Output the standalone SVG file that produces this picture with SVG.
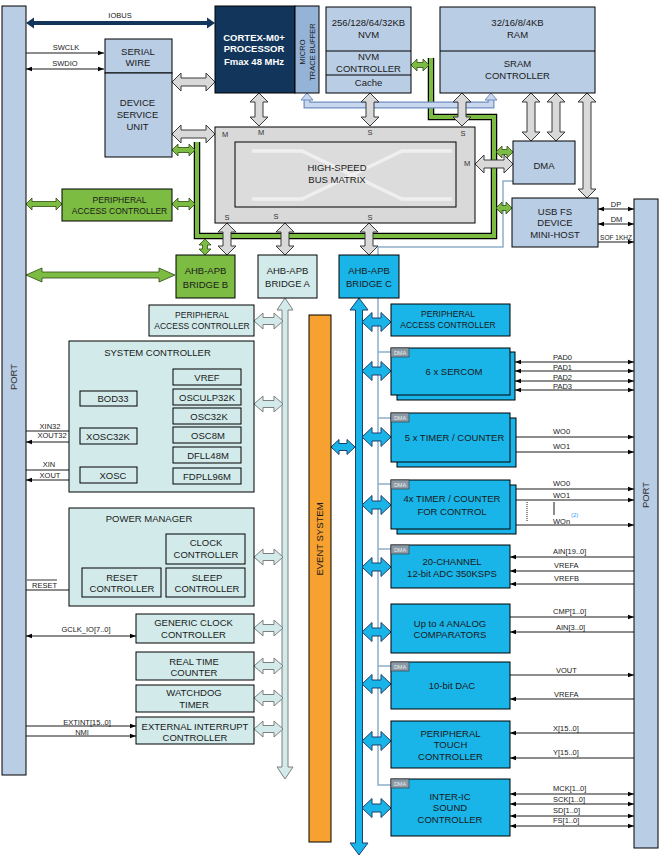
<svg xmlns="http://www.w3.org/2000/svg" width="665" height="858" viewBox="0 0 665 858">
<style>
text{font-family:"Liberation Sans",Arial,sans-serif;fill:#1a1a1a;text-anchor:middle}
.t{font-size:9.5px}
.s{font-size:8.5px}
.l{font-size:7.5px;text-anchor:start}
.lc{font-size:7.5px}
.bl{fill:#b9cde5;stroke:#000;stroke-width:1}
.cy{fill:#19b4e8;stroke:#000;stroke-width:1}
.lcy{fill:#d2ebea;stroke:#000;stroke-width:1}
.gn{fill:#7cbc42;stroke:#000;stroke-width:1}
.ga{fill:#d9d9d9;stroke:#3a3a3a;stroke-width:1}
.ca{fill:#19b4e8;stroke:#1c3f6e;stroke-width:1}
.la{fill:#d2ebea;stroke:#7f7f7f;stroke-width:1}
.gra{fill:#7cbc42;stroke:#2d4a12;stroke-width:0.8}
.sig{stroke:#000;stroke-width:0.9;fill:none}
.e{marker-end:url(#a)}
.d{marker-start:url(#a);marker-end:url(#a)}
.dt{fill:#8a99a5;stroke:#333;stroke-width:0.6}
.dtx{font-size:5.5px;fill:#eee}
.ms{font-size:7.5px;fill:#333}
</style>
<defs>
<marker id="a" viewBox="0 0 6 6" refX="6" refY="3" markerWidth="6" markerHeight="6" markerUnits="userSpaceOnUse" orient="auto-start-reverse"><path d="M0,0.8 L6,3 L0,5.2 Z" fill="#000"/></marker>
<path id="laH" d="M0 0 L9 -8 L9 -3.5 L20 -3.5 L20 -8 L29 0 L20 8 L20 3.5 L9 3.5 L9 8 Z"/>
<path id="caH" d="M0 0 L10 -9.5 L10 -4 L19 -4 L19 -9.5 L29 0 L19 9.5 L19 4 L10 4 L10 9.5 Z"/>
</defs>
<rect width="665" height="858" fill="#fff"/>

<g id="connectors">
<!-- green APB-B bus -->
<path d="M431 58V117H494V236H197V142" fill="none" stroke="#000" stroke-width="6.5"/>
<path d="M431 58V117H494V236H197V142" fill="none" stroke="#7cbc42" stroke-width="4"/>
<!-- trace buffer band -->
<path d="M307 99V105H491V99" fill="none" stroke="#6f8fbf" stroke-width="7"/>
<path d="M307 99V105H491V99" fill="none" stroke="#c9d8ee" stroke-width="4.5"/>
<path d="M307 93L313 100L301 100Z" fill="#c9d8ee" stroke="#6f8fbf" stroke-width="1"/>
<path d="M491 93L497 100L485 100Z" fill="#c9d8ee" stroke="#6f8fbf" stroke-width="1"/>
<!-- DMA request line -->
<path d="M513 181H503V247H378V785H391M378 352H391M378 418H391M378 484H391M378 549H391M378 666H391" fill="none" stroke="#8fafc8" stroke-width="1.5"/>
<!-- IOBUS -->
<path d="M26 23 L34 17.5 L34 21 L207 21 L207 17.5 L215 23 L207 28.5 L207 25 L34 25 L34 28.5 Z" fill="#12355b"/>
<!-- gray AHB arrows -->
<path class="ga" d="M172 82 L181 73 L181 78 L206 78 L206 73 L215 82 L206 91 L206 86 L181 86 L181 91 Z"/>
<path class="ga" d="M172 134 L181 125 L181 130 L206 130 L206 125 L215 134 L206 143 L206 138 L181 138 L181 143 Z"/>
<path class="ga" d="M259 93 L268 102 L263 102 L263 117 L268 117 L259 126 L250 117 L255 117 L255 102 L250 102 Z"/>
<path class="ga" d="M370 93 L379 102 L374 102 L374 117 L379 117 L370 126 L361 117 L366 117 L366 102 L361 102 Z"/>
<path class="ga" d="M462 93 L471 102 L466 102 L466 117 L471 117 L462 126 L453 117 L458 117 L458 102 L453 102 Z"/>
<path class="ga" d="M531 93 L540 102 L535 102 L535 132 L540 132 L531 141 L522 132 L527 132 L527 102 L522 102 Z"/>
<path class="ga" d="M556 93 L565 102 L560 102 L560 132 L565 132 L556 141 L547 132 L552 132 L552 102 L547 102 Z"/>
<path class="ga" d="M587 93 L596 102 L591 102 L591 189 L596 189 L587 198 L578 189 L583 189 L583 102 L578 102 Z"/>
<path class="ga" d="M475 164 L484 155 L484 160 L504 160 L504 155 L513 164 L504 173 L504 168 L484 168 L484 173 Z"/>
<path class="ga" d="M227 223 L236 232 L231 232 L231 246 L236 246 L227 255 L218 246 L223 246 L223 232 L218 232 Z"/>
<path class="ga" d="M285 223 L294 232 L289 232 L289 246 L294 246 L285 255 L276 246 L281 246 L281 232 L276 232 Z"/>
<path class="ga" d="M369 223 L378 232 L373 232 L373 246 L378 246 L369 255 L360 246 L365 246 L365 232 L360 232 Z"/>
<!-- green arrows -->
<path class="gra" d="M411 65 L417 59 L417 62.5 L423 62.5 L423 59 L429 65 L423 71 L423 67.5 L417 67.5 L417 71 Z"/>
<path class="gra" d="M172 150 L178 144 L178 147.5 L189 147.5 L189 144 L195 150 L189 156 L189 152.5 L178 152.5 L178 156 Z"/>
<path class="gra" d="M172 204 L178 198 L178 201.5 L189 201.5 L189 198 L195 204 L189 210 L189 206.5 L178 206.5 L178 210 Z"/>
<path class="gra" d="M26 204 L32 198 L32 201.5 L56 201.5 L56 198 L62 204 L56 210 L56 206.5 L32 206.5 L32 210 Z"/>
<path class="gra" d="M205 239 L211 245 L207.5 245 L207.5 249 L211 249 L205 255 L199 249 L202.5 249 L202.5 245 L199 245 Z"/>
<path class="gra" d="M496 152 L502 146 L502 149.5 L507 149.5 L507 146 L513 152 L507 158 L507 154.5 L502 154.5 L502 158 Z"/>
<path class="gra" d="M496 208 L502 202 L502 205.5 L506 205.5 L506 202 L512 208 L506 214 L506 210.5 L502 210.5 L502 214 Z"/>
<path class="gra" d="M26 275 L42 268 L42 272 L159 272 L159 268 L175 275 L159 282 L159 278 L42 278 L42 282 Z"/>
<!-- APB A bus -->
<path class="la" d="M285 298 L293 310 L288 310 L288 767 L293 767 L285 779 L277 767 L282 767 L282 310 L277 310 Z"/>
<use href="#laH" class="la" x="254" y="321"/>
<use href="#laH" class="la" x="254" y="404"/>
<use href="#laH" class="la" x="254" y="557"/>
<use href="#laH" class="la" x="254" y="628"/>
<use href="#laH" class="la" x="254" y="666"/>
<use href="#laH" class="la" x="254" y="698"/>
<use href="#laH" class="la" x="254" y="729"/>
<!-- APB C bus -->
<path class="ca" d="M359 298 L368 310 L362.5 310 L362.5 843 L368 843 L359 855 L350 843 L355.5 843 L355.5 310 L350 310 Z"/>
<path class="ca" d="M331 447 L339 439.5 L339 443.5 L347 443.5 L347 439.5 L355 447 L347 454.5 L347 450.5 L339 450.5 L339 454.5 Z"/>
<use href="#caH" class="ca" x="362" y="322"/>
<use href="#caH" class="ca" x="362" y="371"/>
<use href="#caH" class="ca" x="362" y="437"/>
<use href="#caH" class="ca" x="362" y="505"/>
<use href="#caH" class="ca" x="362" y="567"/>
<use href="#caH" class="ca" x="362" y="632"/>
<use href="#caH" class="ca" x="362" y="684"/>
<use href="#caH" class="ca" x="362" y="741"/>
<use href="#caH" class="ca" x="362" y="808"/>
<!-- signal lines -->
<path class="sig e" d="M26 53H104"/>
<path class="sig d" d="M26 69H104"/>
<path class="sig e" d="M26 431H80"/>
<path class="sig e" d="M80 442H26"/>
<path class="sig e" d="M26 470H80"/>
<path class="sig e" d="M80 480H26"/>
<path class="sig e" d="M26 590H82"/>
<path class="sig d" d="M26 636H136"/>
<path class="sig e" d="M26 726H136"/>
<path class="sig e" d="M26 736H136"/>
<path class="sig d" d="M598 209H634"/>
<path class="sig d" d="M598 224H634"/>
<path class="sig e" d="M598 242H634"/>
<path class="sig d" d="M515 362H634"/>
<path class="sig d" d="M515 371H634"/>
<path class="sig d" d="M515 381H634"/>
<path class="sig d" d="M515 390H634"/>
<path class="sig e" d="M510 437H634"/>
<path class="sig e" d="M516 452H634"/>
<path class="sig e" d="M510 489H634"/>
<path class="sig e" d="M516 500H634"/>
<path class="sig e" d="M516 525H634"/>
<path d="M527 502V522" stroke="#000" stroke-width="0.9" stroke-dasharray="1,1"/>
<path d="M554 502V515" stroke="#000" stroke-width="0.9"/>
<path class="sig e" d="M634 557H510"/>
<path class="sig e" d="M634 571H510"/>
<path class="sig e" d="M634 584H510"/>
<path class="sig e" d="M510 617H634"/>
<path class="sig e" d="M634 632H510"/>
<path class="sig e" d="M510 675H634"/>
<path class="sig e" d="M634 699H510"/>
<path class="sig e" d="M634 733H510"/>
<path class="sig e" d="M634 758H510"/>
<path class="sig d" d="M510 794H634"/>
<path class="sig d" d="M510 804H634"/>
<path class="sig d" d="M510 816H634"/>
<path class="sig d" d="M510 826H634"/>
<path d="M27 580H57" stroke="#000" stroke-width="0.8"/>
<!-- signal labels -->
<text class="lc" x="120" y="17.5">IOBUS</text>
<text class="lc" x="66" y="50">SWCLK</text>
<text class="lc" x="65" y="66">SWDIO</text>
<text class="lc" x="50" y="428.5">XIN32</text>
<text class="lc" x="52" y="437.5">XOUT32</text>
<text class="lc" x="49" y="467">XIN</text>
<text class="lc" x="50" y="478">XOUT</text>
<text class="lc" x="44.5" y="588">RESET</text>
<text class="lc" x="86" y="632">GCLK_IO[7..0]</text>
<text class="lc" x="87" y="724.5">EXTINT[15..0]</text>
<text class="lc" x="82" y="734.5">NMI</text>
<text class="lc" x="616" y="207">DP</text>
<text class="lc" x="616.5" y="221.5">DM</text>
<text x="616" y="239.5" style="font-size:6.5px">SOF 1KHZ</text>
<text class="l" x="553" y="360">PAD0</text>
<text class="l" x="553" y="369.5">PAD1</text>
<text class="l" x="553" y="380">PAD2</text>
<text class="l" x="553" y="388.5">PAD3</text>
<text class="l" x="553" y="434">WO0</text>
<text class="l" x="553" y="449">WO1</text>
<text class="l" x="553" y="486">WO0</text>
<text class="l" x="553" y="497.5">WO1</text>
<text class="l" x="553" y="524">WOn</text>
<text class="l" x="571" y="516.5" style="font-size:6px;fill:#3399ff">(2)</text>
<text class="l" x="553" y="554">AIN[19..0]</text>
<text class="l" x="554" y="567.5">VREFA</text>
<text class="l" x="554" y="581">VREFB</text>
<text class="l" x="553" y="614">CMP[1..0]</text>
<text class="l" x="556" y="630">AIN[3..0]</text>
<text class="l" x="556" y="673">VOUT</text>
<text class="l" x="554" y="697">VREFA</text>
<text class="l" x="553" y="731">X[15..0]</text>
<text class="l" x="553" y="755">Y[15..0]</text>
<text class="l" x="553" y="791">MCK[1..0]</text>
<text class="l" x="553" y="802">SCK[1..0]</text>
<text class="l" x="553" y="813">SD[1..0]</text>
<text class="l" x="553" y="823">FS[1..0]</text>
</g>

<g id="port-left"><rect class="bl" x="2" y="6" width="24" height="769"/><text class="t" x="17.4" y="377" transform="rotate(-90 17.4 377)" style="fill:#333">PORT</text></g>
<g id="port-right"><rect class="bl" x="634" y="199" width="24" height="649"/><text class="t" x="649.4" y="495" transform="rotate(-90 649.4 495)" style="fill:#333">PORT</text></g>

<g id="cortex"><rect x="215" y="6" width="80" height="87" fill="#12355b" stroke="#000"/>
<text class="t" x="254" y="40.5" style="fill:#fff;font-weight:bold">CORTEX-M0+</text>
<text class="t" x="254" y="51.5" style="fill:#fff;font-weight:bold">PROCESSOR</text>
<text class="t" x="254" y="64.5" style="fill:#fff;font-weight:bold">Fmax 48 MHz</text></g>
<g id="mtb"><rect x="295" y="6" width="24" height="87" fill="#95b3d7" stroke="#000"/>
<text class="lc" x="304.7" y="52" transform="rotate(-90 304.7 52)">MICRO</text>
<text class="lc" x="314.5" y="52" transform="rotate(-90 314.5 52)">TRACE BUFFER</text></g>

<g id="nvm"><rect class="bl" x="326" y="7" width="85" height="86"/><path d="M326 51H411M326 75H411" stroke="#000"/>
<text class="t" x="368.5" y="26">256/128/64/32KB</text><text class="t" x="368.5" y="38">NVM</text>
<text class="t" x="368.5" y="60">NVM</text><text class="t" x="368.5" y="71.5">CONTROLLER</text>
<text class="t" x="368.5" y="85.5">Cache</text></g>

<g id="ram"><rect class="bl" x="440" y="7" width="155" height="86"/><path d="M440 51H595" stroke="#000"/>
<text class="t" x="517.5" y="26">32/16/8/4KB</text><text class="t" x="517.5" y="38">RAM</text>
<text class="t" x="517.5" y="66.5">SRAM</text><text class="t" x="517.5" y="78.5">CONTROLLER</text></g>

<g id="serial-wire"><rect class="bl" x="105" y="39" width="67" height="34"/>
<text class="t" x="138" y="54.5">SERIAL</text><text class="t" x="138" y="65.5">WIRE</text></g>
<g id="dsu"><rect class="bl" x="105" y="73" width="67" height="84"/>
<text class="t" x="137.5" y="105.5">DEVICE</text><text class="t" x="137.5" y="117.5">SERVICE</text><text class="t" x="137.5" y="129.5">UNIT</text></g>

<g id="bus-matrix"><rect x="215" y="127" width="260" height="96" fill="#d9d9d9" stroke="#000"/>
<rect x="235" y="142" width="221" height="65" fill="#dcdcdc" stroke="#000"/>
<path d="M252 151H302L402 199H452M252 199H302L402 151H452" fill="none" stroke="#efefef" stroke-width="3.5"/>
<text class="t" x="337" y="170.5">HIGH-SPEED</text><text class="t" x="337" y="182.5">BUS MATRIX</text>
<text class="ms" x="225" y="137">M</text><text class="ms" x="261" y="135">M</text><text class="ms" x="370" y="135">S</text><text class="ms" x="463" y="136">S</text>
<text class="ms" x="467" y="166">M</text><text class="ms" x="227" y="220">S</text><text class="ms" x="276" y="219">S</text><text class="ms" x="370" y="220">S</text></g>

<g id="dma"><rect class="bl" x="513" y="141" width="62" height="43"/><text class="t" x="544" y="168.5">DMA</text></g>
<g id="usb"><rect class="bl" x="512" y="198" width="86" height="49"/>
<text class="t" x="555" y="214.5">USB FS</text><text class="t" x="555" y="225.5">DEVICE</text><text class="t" x="555" y="237.5">MINI-HOST</text></g>

<g id="pac-b"><rect class="gn" x="62" y="189" width="110" height="32"/>
<text class="s" x="119.5" y="203">PERIPHERAL</text><text class="s" x="119.5" y="214">ACCESS CONTROLLER</text></g>
<g id="bridge-b"><rect class="gn" x="176" y="255" width="59" height="43"/>
<text class="t" x="205.5" y="274">AHB-APB</text><text class="t" x="205.5" y="287.5">BRIDGE B</text></g>
<g id="bridge-a"><rect class="lcy" x="258" y="255" width="59" height="43"/>
<text class="t" x="287.5" y="274">AHB-APB</text><text class="t" x="287.5" y="287">BRIDGE A</text></g>
<g id="bridge-c"><rect class="cy" x="339" y="255" width="60" height="43"/>
<text class="t" x="369" y="274">AHB-APB</text><text class="t" x="369" y="287">BRIDGE C</text></g>

<g id="event-system"><rect x="309" y="315" width="22" height="527" fill="#f7a131" stroke="#000"/>
<text class="t" x="323.4" y="539" transform="rotate(-90 323.4 539)">EVENT SYSTEM</text></g>

<g id="pac-a"><rect class="lcy" x="149" y="305" width="105" height="31"/>
<text class="s" x="202" y="318">PERIPHERAL</text><text class="s" x="202" y="329">ACCESS CONTROLLER</text></g>

<g id="system-controller"><rect class="lcy" x="69" y="341" width="185" height="151"/>
<text class="t" x="157.5" y="356">SYSTEM CONTROLLER</text>
<rect class="lcy" x="173" y="369" width="68" height="16"/><text class="t" x="207" y="380.5">VREF</text>
<rect class="lcy" x="173" y="389" width="68" height="16"/><text class="t" x="207" y="400.5">OSCULP32K</text>
<rect class="lcy" x="173" y="408" width="68" height="16"/><text class="t" x="209" y="419.5">OSC32K</text>
<rect class="lcy" x="173" y="427" width="68" height="16"/><text class="t" x="208" y="438.5">OSC8M</text>
<rect class="lcy" x="173" y="447" width="68" height="16"/><text class="t" x="208" y="458.5">DFLL48M</text>
<rect class="lcy" x="173" y="468" width="68" height="16"/><text class="t" x="207" y="479.5">FDPLL96M</text>
<rect class="lcy" x="80" y="391" width="57" height="15"/><text class="t" x="113" y="402">BOD33</text>
<rect class="lcy" x="80" y="428" width="57" height="16"/><text class="t" x="108" y="439.5">XOSC32K</text>
<rect class="lcy" x="80" y="467" width="57" height="16"/><text class="t" x="113" y="478.5">XOSC</text></g>

<g id="power-manager"><rect class="lcy" x="69" y="508" width="185" height="98"/>
<text class="t" x="149" y="522">POWER MANAGER</text>
<rect class="lcy" x="166" y="534" width="79" height="30"/><text class="t" x="206" y="545.5">CLOCK</text><text class="t" x="206" y="557.5">CONTROLLER</text>
<rect class="lcy" x="82" y="568" width="79" height="29"/><text class="t" x="122" y="580.5">RESET</text><text class="t" x="122" y="591.5">CONTROLLER</text>
<rect class="lcy" x="166" y="568" width="79" height="29"/><text class="t" x="207" y="580.5">SLEEP</text><text class="t" x="207" y="591.5">CONTROLLER</text></g>

<g id="gclk"><rect class="lcy" x="136" y="614" width="118" height="29"/><text class="t" x="193.5" y="625.5">GENERIC CLOCK</text><text class="t" x="193.5" y="637.5">CONTROLLER</text></g>
<g id="rtc"><rect class="lcy" x="136" y="652" width="118" height="28"/><text class="t" x="194" y="664.5">REAL TIME</text><text class="t" x="194" y="675.5">COUNTER</text></g>
<g id="wdt"><rect class="lcy" x="136" y="685" width="118" height="27"/><text class="t" x="194" y="695.5">WATCHDOG</text><text class="t" x="194" y="707.5">TIMER</text></g>
<g id="eic"><rect class="lcy" x="136" y="717" width="118" height="27"/><text class="t" x="195" y="729.5">EXTERNAL INTERRUPT</text><text class="t" x="195" y="740.5">CONTROLLER</text></g>

<g id="pac-c"><rect class="cy" x="391" y="304" width="119" height="32"/>
<text class="s" x="448" y="317">PERIPHERAL</text><text class="s" x="448" y="328">ACCESS CONTROLLER</text></g>

<g id="sercom"><rect class="cy" x="397" y="352" width="118" height="48"/><rect class="cy" x="391" y="348" width="119" height="47"/>
<rect class="dt" x="391" y="348" width="18" height="9"/><text class="dtx" x="400" y="354.8">DMA</text>
<text class="t" x="454" y="374.5">6 x SERCOM</text></g>

<g id="tc"><rect class="cy" x="397" y="418" width="119" height="49"/><rect class="cy" x="391" y="413" width="119" height="49"/>
<rect class="dt" x="391" y="413" width="18" height="9"/><text class="dtx" x="400" y="419.8">DMA</text>
<text class="t" x="454.5" y="440.5">5 x TIMER / COUNTER</text></g>

<g id="tcc"><rect class="cy" x="397" y="485" width="119" height="49"/><rect class="cy" x="391" y="480" width="119" height="49"/>
<rect class="dt" x="391" y="480" width="18" height="9"/><text class="dtx" x="400" y="486.8">DMA</text>
<text class="t" x="452" y="502">4x TIMER / COUNTER</text><text class="t" x="452" y="515">FOR CONTROL</text></g>

<g id="adc"><rect class="cy" x="391" y="545" width="119" height="43"/>
<rect class="dt" x="391" y="545" width="18" height="9"/><text class="dtx" x="400" y="551.8">DMA</text>
<text class="t" x="452" y="564.5">20-CHANNEL</text><text class="t" x="452" y="576.5">12-bit ADC 350KSPS</text></g>

<g id="ac"><rect class="cy" x="391" y="604" width="119" height="49"/>
<text class="t" x="450" y="626.5">Up to 4 ANALOG</text><text class="t" x="450" y="637.5">COMPARATORS</text></g>

<g id="dac"><rect class="cy" x="391" y="662" width="119" height="47"/>
<rect class="dt" x="391" y="662" width="18" height="9"/><text class="dtx" x="400" y="668.8">DMA</text>
<text class="t" x="452" y="688.5">10-bit DAC</text></g>

<g id="ptc"><rect class="cy" x="391" y="721" width="119" height="47"/>
<text class="t" x="450.5" y="736.5">PERIPHERAL</text><text class="t" x="450.5" y="747.5">TOUCH</text><text class="t" x="450.5" y="759.5">CONTROLLER</text></g>

<g id="i2s"><rect class="cy" x="391" y="779" width="119" height="57"/>
<rect class="dt" x="391" y="779" width="18" height="9"/><text class="dtx" x="400" y="785.8">DMA</text>
<text class="t" x="450" y="799.5">INTER-IC</text><text class="t" x="450" y="810.5">SOUND</text><text class="t" x="450" y="822.5">CONTROLLER</text></g>
</svg>
